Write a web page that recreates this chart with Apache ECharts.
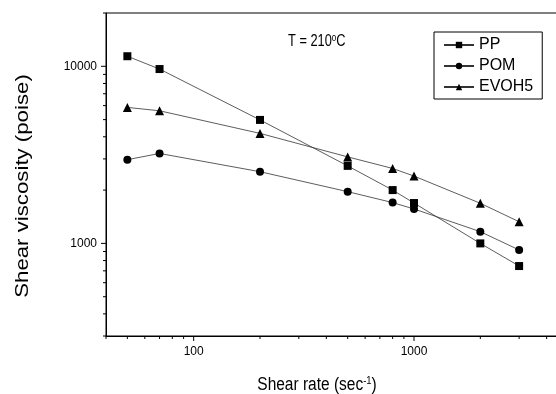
<!DOCTYPE html>
<html>
<head>
<meta charset="utf-8">
<script src="https://cdn.jsdelivr.net/npm/echarts@6/dist/echarts.min.js"></script>
<style>html,body{margin:0;padding:0;background:#fff;}#c{width:556px;height:394px;}</style>
</head>
<body>
<div id="c"></div>
<script>
// Data
const shearRate = [50, 70, 200, 500, 800, 1000, 2000, 3000];
const ppVisc = [11400, 9650, 4980, 2740, 2000, 1690, 1000, 745];
const pomVisc = [2970, 3220, 2540, 1960, 1700, 1565, 1165, 918];
const evohVisc = [5860, 5610, 4180, 3080, 2650, 2400, 1685, 1325];
const seriesNames = ['PP', 'POM', 'EVOH5'];
// Axis ticks
const xMajorTicks = [100, 1000];
const xMinorTicks = [40, 50, 60, 70, 80, 90, 200, 300, 400, 500, 600, 700, 800, 900, 2000, 3000, 4000, 5000];
const yMajorTicks = [1000, 10000];
const yMinorTicks = [300, 400, 500, 600, 700, 800, 900, 2000, 3000, 4000, 5000, 6000, 7000, 8000, 9000, 20000];
const xMin = 40, xMax = 5000, yMin = 300, yMax = 20000;

const FONT = '"Liberation Sans", Arial, Helvetica, sans-serif';
const pair = (ys) => shearRate.map((x, i) => [x, ys[i]]);

const tickData = [];
xMajorTicks.forEach(v => tickData.push([v, yMin, 0, 5]));
xMinorTicks.forEach(v => tickData.push([v, yMin, 0, 3]));
yMajorTicks.forEach(v => tickData.push([xMin, v, 1, 5]));
yMinorTicks.forEach(v => tickData.push([xMin, v, 1, 3]));

const lineCommon = {
  type: 'line',
  lineStyle: { color: '#333', width: 0.8 },
  itemStyle: { color: '#000', borderWidth: 0 },
  emphasis: { disabled: true },
  animation: false
};

const chart = echarts.init(document.getElementById('c'), null, { renderer: 'canvas' });
const isPow10 = (v) => { const l = Math.log10(v); return Math.abs(l - Math.round(l)) < 1e-6; };

chart.setOption({
  backgroundColor: '#fff',
  animation: false,
  grid: { left: 106, top: 13, width: 462, height: 323, outerBoundsMode: 'none', containLabel: false,
    show: true, borderColor: '#000', borderWidth: 1, backgroundColor: 'transparent' },
  xAxis: {
    type: 'log', min: xMin, max: xMax, logBase: 10,
    axisLine: { show: true, lineStyle: { color: '#000', width: 1 } },
    axisTick: { show: false },
    splitLine: { show: false },
    axisLabel: { margin: 10, fontSize: 12, color: '#000', fontFamily: FONT,
      formatter: (v) => isPow10(v) ? String(Math.round(v)) : '' }
  },
  yAxis: {
    type: 'log', min: yMin, max: yMax, logBase: 10,
    axisLine: { show: true, lineStyle: { color: '#000', width: 1 } },
    axisTick: { show: false },
    splitLine: { show: false },
    axisLabel: { margin: 9, fontSize: 12, color: '#000', fontFamily: FONT,
      formatter: (v) => isPow10(v) ? String(Math.round(v)) : '' }
  },
  legend: {
    data: seriesNames,
    orient: 'vertical',
    left: 434, top: 32,
    backgroundColor: '#fff',
    borderColor: '#000', borderWidth: 1, borderRadius: 0,
    padding: [5, 9, 4, 9],
    itemGap: 5, itemWidth: 30, itemHeight: 8,
    textStyle: { fontSize: 16, color: '#000', fontFamily: FONT },
    selectedMode: false
  },
  series: [
    Object.assign({}, lineCommon, { name: 'PP', symbol: 'rect', symbolSize: 8, data: pair(ppVisc) }),
    Object.assign({}, lineCommon, { name: 'POM', symbol: 'circle', symbolSize: 8, data: pair(pomVisc) }),
    Object.assign({}, lineCommon, { name: 'EVOH5', symbol: 'triangle', symbolSize: 9, data: pair(evohVisc) }),
    {
      type: 'custom', name: 'ticks', silent: true, clip: false, z: 5,
      data: tickData,
      renderItem: function (params, api) {
        const p = api.coord([api.value(0), api.value(1)]);
        const len = api.value(3);
        const isX = api.value(2) === 0;
        return {
          type: 'line',
          shape: isX ? { x1: p[0], y1: p[1], x2: p[0], y2: p[1] + len } : { x1: p[0], y1: p[1], x2: p[0] - len, y2: p[1] },
          style: { stroke: '#000', lineWidth: 1 }
        };
      }
    }
  ],
  graphic: [
    {
      type: 'text', x: 317, y: 385, scaleX: 0.86,
      style: {
        text: '{a|Shear rate (sec}{s|-1}{a|)}',
        textAlign: 'center', textVerticalAlign: 'middle',
        rich: {
          a: { fontSize: 18, fontFamily: FONT, fill: '#000' },
          s: { fontSize: 11, fontFamily: FONT, fill: '#000', verticalAlign: 'top', padding: [0, 0, 8, 0] }
        }
      }
    },
    {
      type: 'text', x: 23, y: 186, rotation: Math.PI / 2, scaleX: 1.17,
      style: {
        text: 'Shear viscosity (poise)',
        font: '19px ' + FONT, fill: '#000',
        textAlign: 'center', textVerticalAlign: 'middle'
      }
    },
    {
      type: 'text', x: 288, y: 42, scaleX: 0.8,
      style: {
        text: '{a|T = 210}{s|o}{a|C}',
        textAlign: 'left', textVerticalAlign: 'middle',
        rich: {
          a: { fontSize: 16, fontFamily: FONT, fill: '#000' },
          s: { fontSize: 10, fontFamily: FONT, fill: '#000', verticalAlign: 'top', padding: [0, 0, 7, 0] }
        }
      }
    }
  ]
});
</script>
</body>
</html>
